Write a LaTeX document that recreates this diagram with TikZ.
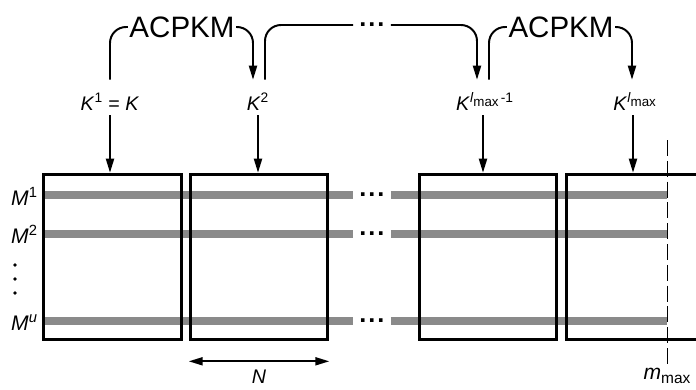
\documentclass[tikz,border=0pt]{standalone}
\usepackage{fontspec}
\setmainfont{Liberation Sans}
\usetikzlibrary{arrows.meta}

\begin{document}
\begin{tikzpicture}[x=0.025cm,y=-0.025cm]
\tikzset{block/.style={
rectangle,draw,black,line width=2.1pt,
minimum width=3.44cm,
minimum height=4.14cm,
inner sep=0pt}}

\tikzset{key/.style={
font=\fontsize{14}{17}\selectfont,
inner sep=0pt,
text height=0.75cm,
text depth=0.125cm,
anchor=base}}

\tikzset{rowname/.style={
font=\fontsize{15}{18}\selectfont,
inner sep=0pt,
anchor=base east}}

\tikzset{algo/.style={font=\fontsize{21}{25}\selectfont,inner sep=1pt}}
\tikzset{link/.style={line width=1.4pt,rounded corners=0.4cm}}
\tikzset{tip/.style={-{Triangle[length=0.35cm,width=0.2cm]}}}
\tikzset{bar/.style={line width=0.2cm,black!46}}
\tikzset{gap/.style={font=\fontsize{18}{10}\selectfont\bfseries,inner xsep=0.15cm,inner ysep=0pt}}
\tikzset{rowdot/.style={circle,fill=black,inner sep=0pt,minimum size=0.09cm}}
\tikzset{limit/.style={line width=0.7pt,dash pattern=on 0.4cm off 0.12cm}}

\clip (0,0) rectangle (696,389);

\node[gap] (uDots1) at (372,195) {.\kern1.4pt.\kern1.4pt.};
\node[gap] (uDots2) at (372,234) {.\kern1.4pt.\kern1.4pt.};
\node[gap] (uDots3) at (372,321) {.\kern1.4pt.\kern1.4pt.};

\draw[bar] (42,195) -- (uDots1.west);
\draw[bar] (uDots1.east) -- (667,195);
\draw[bar] (42,234) -- (uDots2.west);
\draw[bar] (uDots2.east) -- (667,234);
\draw[bar] (42,321) -- (uDots3.west);
\draw[bar] (uDots3.east) -- (667,321);

\node[block] (uBlock1) at (112.75,257) {};
\node[block] (uBlock2) at (259,257) {};
\node[block] (uBlock3) at (488,257) {};
\node[block] (uBlock4) at (635,257) {};

\node[rowname] (uRow1) at (38,205) {\textit{M}\textsuperscript{1}};
\node[rowname] (uRow2) at (38,243) {\textit{M}\textsuperscript{2}};
\node[rowname] (uRowU) at (38,330) {\textit{M}\textsuperscript{\textit{u}}};
\node[rowdot] (uRowDotA) at (15,265) {};
\node[rowdot] (uRowDotB) at (15,279) {};
\node[rowdot] (uRowDotC) at (15,293) {};

\node[key] (uKey1) at (110,110) {\textit{K}\textsuperscript{1} = \textit{K}};
\node[key] (uKey2) at (258,110) {\textit{K}\textsuperscript{2}};
\node[key] (uKey3) at (485,110)
{\textit{K}\textsuperscript{\textit{l}\raisebox{-2.8pt}{\fontsize{9.5}{9.5}\selectfont max}\,-1}};
\node[key] (uKey4) at (635,110)
{\textit{K}\textsuperscript{\textit{l}\raisebox{-2.8pt}{\fontsize{9.5}{9.5}\selectfont max}}};

\node[algo] (uAcpkmA) at (182,27) {ACPKM};
\node[algo] (uAcpkmB) at (561,27) {ACPKM};
\node[gap] (uDotsTop) at (372,25) {.\kern1.4pt.\kern1.4pt.};

\draw[link] (uKey1.north) |- (uAcpkmA.west);
\draw[link,tip] (uAcpkmA.east) -| ([xshift=-0.125cm]uKey2.north);
\draw[link] ([xshift=0.175cm]uKey2.north) |- (uDotsTop.west);
\draw[link,tip] (uDotsTop.east) -| ([xshift=-0.2cm]uKey3.north);
\draw[link] ([xshift=0.1cm]uKey3.north) |- (uAcpkmB.west);
\draw[link,tip] (uAcpkmB.east) -| ([xshift=-0.075cm]uKey4.north);

\draw[link,tip] ([xshift=-0.05cm]uKey3.south) -- ([xshift=-0.05cm]uKey3.south |- uBlock3.north);
\draw[link,tip] (uKey1) -- (uKey1 |- uBlock1.north);
\draw[link,tip] (uKey2) -- (uKey2 |- uBlock2.north);
\draw[link,tip] ([xshift=-0.05cm]uKey4.south) -- ([xshift=-0.05cm]uKey4.south |- uBlock4.north);

\draw[limit] (667,140) coordinate (uMaxTop) -- (667,366) coordinate (uMaxBot);
\node[below,inner sep=0.05cm,font=\fontsize{15}{18}\selectfont] (uMmax) at (uMaxBot)
{\textit{m}\raisebox{-2.5pt}{\fontsize{11}{11}\selectfont max}};

\draw[link,{Triangle[length=0.35cm,width=0.2cm]}-{Triangle[length=0.35cm,width=0.2cm]}]
([yshift=-0.5cm]uBlock2.south west) -- ([yshift=-0.5cm]uBlock2.south east)
node[midway,below,inner sep=0.2cm,font=\fontsize{14}{17}\selectfont\itshape] (uWidth) {N};

\end{tikzpicture}
\end{document}
